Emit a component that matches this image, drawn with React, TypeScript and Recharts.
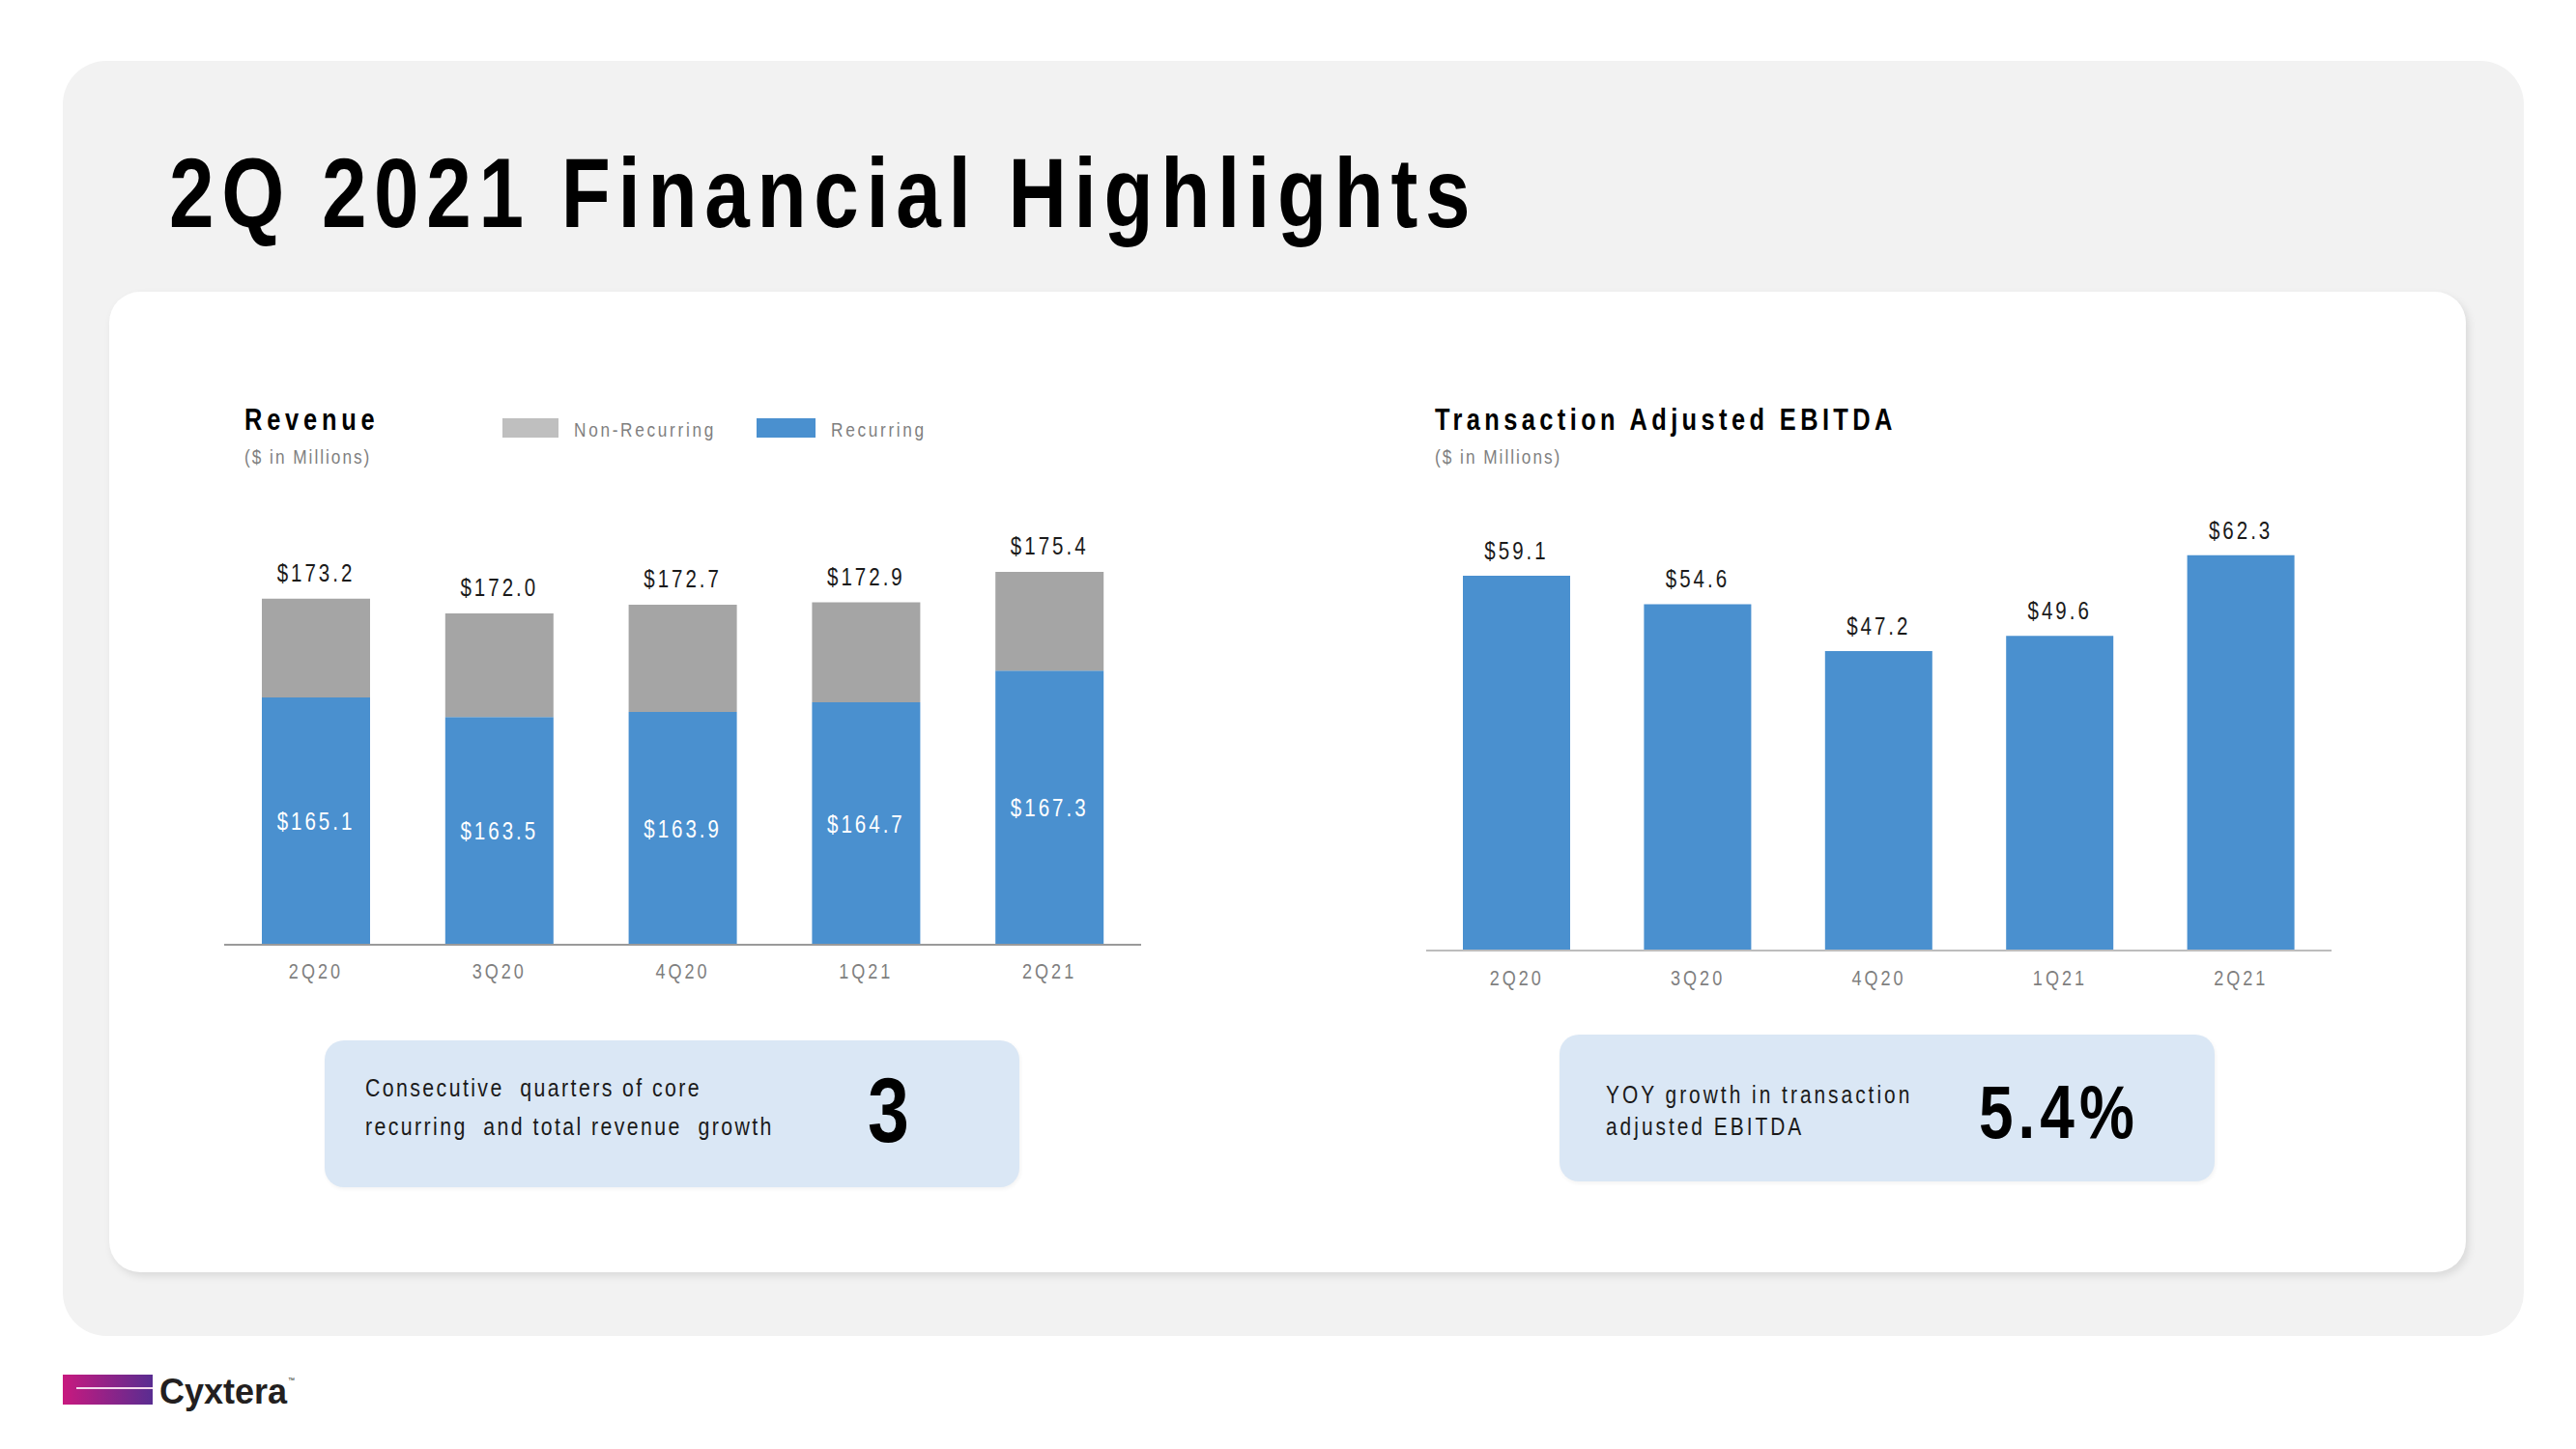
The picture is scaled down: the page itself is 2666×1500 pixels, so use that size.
import React from 'react'
import { BarChart, Bar, XAxis, YAxis, LabelList } from 'recharts'

// quarters and values
const quarters = ['2Q20', '3Q20', '4Q20', '1Q21', '2Q21']
const recurringRevenue = [165.1, 163.5, 163.9, 164.7, 167.3]
const totalRevenue = [173.2, 172.0, 172.7, 172.9, 175.4]
const adjustedEbitda = [59.1, 54.6, 47.2, 49.6, 62.3]

const revenueData = quarters.map((q, i) => ({
  quarter: q,
  recurring: recurringRevenue[i],
  nonRecurring: +(totalRevenue[i] - recurringRevenue[i]).toFixed(1),
  total: totalRevenue[i],
}))

const ebitdaData = quarters.map((q, i) => ({
  quarter: q,
  ebitda: adjustedEbitda[i],
}))

// no Arial Narrow in the sandbox, so squeeze Liberation Sans horizontally
const SANS = '"Liberation Sans", Arial, sans-serif'
const SQUEEZE = 0.82
const BLUE = '#4a90cf'
const GRAY_BAR = '#a5a5a5'
const TEXT = '#1a1a1a'
const MUTED = '#7f7f7f'

type NarrowProps = {
  x: number
  y: number
  size: number
  ls?: number
  anchor?: 'start' | 'middle' | 'end'
  bold?: boolean
  fill?: string
  children: React.ReactNode
}

function Narrow({ x, y, size, ls = 0, anchor = 'start', bold, fill = TEXT, children }: NarrowProps) {
  return (
    <text
      transform={`translate(${x},${y}) scale(${SQUEEZE},1)`}
      x={0}
      y={0}
      textAnchor={anchor}
      fontFamily={SANS}
      fontWeight={bold ? 'bold' : 'normal'}
      fontSize={size}
      letterSpacing={ls / SQUEEZE}
      fill={fill}
      style={{ whiteSpace: 'pre' }}
    >
      {children}
    </text>
  )
}

const money = (v: any) => '$' + Number(v).toFixed(1)

const topLabel = (offset: number) => (props: any) => {
  const { x, y, width, value } = props
  return (
    <Narrow x={x + width / 2} y={y - offset} size={25} ls={3} anchor="middle" fill={TEXT}>
      {money(value)}
    </Narrow>
  )
}

const centerLabel = (props: any) => {
  const { x, y, width, height, value } = props
  return (
    <Narrow x={x + width / 2} y={y + height / 2 + 9} size={25} ls={3} anchor="middle" fill="#ffffff">
      {money(value)}
    </Narrow>
  )
}

const quarterTick = (dy: number) => (props: any) => {
  const { x, y, payload } = props
  return (
    <Narrow x={x} y={y + dy} size={22} ls={3} anchor="middle" fill={MUTED}>
      {payload.value}
    </Narrow>
  )
}

function RevenueChart() {
  return (
    <BarChart
      width={949}
      height={538}
      data={revenueData}
      margin={{ top: 0, right: 0, bottom: 0, left: 0 }}
      barSize={112}
    >
      <XAxis
        dataKey="quarter"
        height={60}
        axisLine={{ stroke: '#9a9a9a', strokeWidth: 2 }}
        tickLine={false}
        tickSize={0}
        tickMargin={0}
        tick={quarterTick(35)}
        interval={0}
      />
      <YAxis hide type="number" domain={[144.8, 182.7]} allowDataOverflow />
      <Bar dataKey="recurring" stackId="rev" fill={BLUE} isAnimationActive={false}>
        <LabelList dataKey="recurring" content={centerLabel} />
      </Bar>
      <Bar dataKey="nonRecurring" stackId="rev" fill={GRAY_BAR} isAnimationActive={false}>
        <LabelList dataKey="total" content={topLabel(18)} />
      </Bar>
    </BarChart>
  )
}

function EbitdaChart() {
  return (
    <BarChart
      width={937}
      height={544}
      data={ebitdaData}
      margin={{ top: 0, right: 0, bottom: 0, left: 0 }}
      barSize={111}
    >
      <XAxis
        dataKey="quarter"
        height={60}
        axisLine={{ stroke: '#bdbdbd', strokeWidth: 2 }}
        tickLine={false}
        tickSize={0}
        tickMargin={0}
        tick={quarterTick(36)}
        interval={0}
      />
      <YAxis hide type="number" domain={[0, 73.7]} allowDataOverflow />
      <Bar dataKey="ebitda" fill={BLUE} isAnimationActive={false}>
        <LabelList dataKey="ebitda" content={topLabel(17)} />
      </Bar>
    </BarChart>
  )
}

const abs = (left: number, top: number, extra: React.CSSProperties = {}): React.CSSProperties => ({
  position: 'absolute',
  left,
  top,
  ...extra,
})

export default function App() {
  return (
    <div style={abs(0, 0, { width: 2666, height: 1500, background: '#ffffff', overflow: 'hidden' })}>
      {/* slide panels */}
      <div style={abs(65, 63, { width: 2547, height: 1320, background: '#f2f2f2', borderRadius: 45 })} />
      <div
        style={abs(113, 302, {
          width: 2439,
          height: 1015,
          background: '#ffffff',
          borderRadius: 32,
          boxShadow: '3px 4px 8px rgba(0,0,0,0.10)',
        })}
      />
      <div
        style={abs(336, 1077, {
          width: 719,
          height: 152,
          background: '#dae7f5',
          borderRadius: 20,
          boxShadow: '1px 2px 4px rgba(0,0,0,0.05)',
        })}
      />
      <div
        style={abs(1614, 1071, {
          width: 678,
          height: 152,
          background: '#dae7f5',
          borderRadius: 20,
          boxShadow: '1px 2px 4px rgba(0,0,0,0.05)',
        })}
      />

      {/* legend swatches */}
      <div style={abs(520, 433, { width: 58, height: 20, background: '#bfbfbf' })} />
      <div style={abs(783, 433, { width: 61, height: 20, background: BLUE })} />

      <div style={abs(232, 500)}>
        <RevenueChart />
      </div>
      <div style={abs(1476, 500)}>
        <EbitdaChart />
      </div>

      <svg width={2666} height={1500} style={abs(0, 0, { pointerEvents: 'none' })}>
        <defs>
          <linearGradient id="logoGrad" x1="0" y1="0" x2="1" y2="0">
            <stop offset="0%" stopColor="#c8197f" />
            <stop offset="100%" stopColor="#592d91" />
          </linearGradient>
        </defs>

        <Narrow x={175} y={235} size={102} ls={7.7} bold fill="#000">
          2Q 2021 Financial Highlights
        </Narrow>

        <Narrow x={253} y={445} size={31} ls={4.8} bold fill="#000">
          Revenue
        </Narrow>
        <Narrow x={253} y={480} size={21} ls={2} fill={MUTED}>
          ($ in Millions)
        </Narrow>
        <Narrow x={594} y={452} size={21} ls={2.7} fill={MUTED}>
          Non-Recurring
        </Narrow>
        <Narrow x={860} y={452} size={21} ls={2.7} fill={MUTED}>
          Recurring
        </Narrow>

        <Narrow x={1485} y={445} size={31} ls={4.4} bold fill="#000">
          Transaction Adjusted EBITDA
        </Narrow>
        <Narrow x={1485} y={480} size={21} ls={2} fill={MUTED}>
          ($ in Millions)
        </Narrow>

        <Narrow x={378} y={1135} size={26} ls={2.4}>
          Consecutive  quarters of core
        </Narrow>
        <Narrow x={378} y={1175} size={26} ls={2.4}>
          recurring  and total revenue  growth
        </Narrow>
        <Narrow x={898} y={1182} size={94} bold fill="#000">
          3
        </Narrow>

        <Narrow x={1662} y={1142} size={25.5} ls={3}>
          YOY growth in transaction
        </Narrow>
        <Narrow x={1662} y={1175} size={25.5} ls={3}>
          adjusted EBITDA
        </Narrow>
        <Narrow x={2048} y={1178} size={78} ls={5} bold fill="#000">
          5.4%
        </Narrow>

        {/* logo */}
        <rect x={65} y={1423} width={93} height={31} fill="url(#logoGrad)" />
        <rect x={79} y={1436} width={79} height={2} fill="#f3d9ec" />
        <text x={165} y={1453} fontFamily={SANS} fontWeight="bold" fontSize={36} fill="#231f20">
          Cyxtera
        </text>
        <text x={298} y={1431} fontFamily={SANS} fontSize={7} fill="#231f20">
          ™
        </text>
      </svg>
    </div>
  )
}
